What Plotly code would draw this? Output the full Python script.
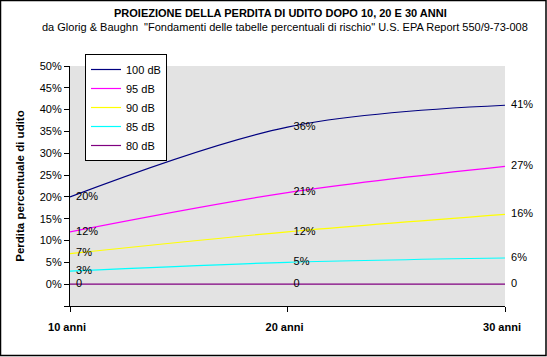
import plotly.graph_objects as go

years = [10, 20, 30]
x_labels = ["10 anni", "20 anni", "30 anni"]
series_names = ["100 dB", "95 dB", "90 dB", "85 dB", "80 dB"]
v100 = [0.20, 0.36, 0.41]
v95 = [0.12, 0.21, 0.27]
v90 = [0.07, 0.12, 0.16]
v85 = [0.03, 0.05, 0.06]
v80 = [0.0, 0.0, 0.0]
colors = ["#000080", "#FF00FF", "#FFFF00", "#00FFFF", "#800080"]
y_ticks = [-0.05, 0, 0.05, 0.10, 0.15, 0.20, 0.25, 0.30, 0.35, 0.40, 0.45, 0.50]
y_tick_labels = [""] + [f"{int(round(v*100))}%" for v in y_ticks[1:]]

W, H = 547, 357
ML, MR, MT, MB = 70, 42, 66, 51
PW, PH = W - ML - MR, H - MT - MB

font = "Liberation Sans, Arial, sans-serif"
pad = "\u00a0\u00a0"

fig = go.Figure()
for name, vals, col in zip(series_names, [v100, v95, v90, v85, v80], colors):
    if name == "80 dB":
        txt = [pad + "0" for v in vals]
    else:
        txt = [pad + f"{int(round(v*100))}%" for v in vals]
    fig.add_trace(go.Scatter(
        x=years, y=vals, name=name, mode="lines+text",
        line=dict(color=col, width=1.2, shape="spline", smoothing=1),
        text=txt, textposition="middle right",
        textfont=dict(family=font, size=11, color="black"),
        cliponaxis=False,
    ))

fig.update_layout(
    width=W, height=H,
    margin=dict(l=ML, r=MR, t=MT, b=MB, autoexpand=False),
    paper_bgcolor="white",
    plot_bgcolor="#E3E3E3",
    font=dict(family=font, size=11, color="black"),
    showlegend=True,
    legend=dict(
        x=(85 - ML) / PW, y=1 + (MT - 54) / PH, xanchor="left", yanchor="top",
        bgcolor="white", bordercolor="black", borderwidth=1,
        font=dict(family=font, size=11, color="black"),
        tracegroupgap=0, itemwidth=30,
    ),
    xaxis=dict(
        range=[10, 30], tickvals=years, ticktext=x_labels,
        showgrid=False, zeroline=False, automargin=False,
        showline=True, linecolor="black", linewidth=1.2,
        ticks="outside", ticklen=5, tickcolor="black", tickwidth=1.2,
        tickfont=dict(family=font, size=11, color="black", weight="bold"),
        ticklabelstandoff=6, ticklabelshift=-3,
    ),
    yaxis=dict(
        range=[-0.05, 0.5], tickvals=y_ticks, ticktext=y_tick_labels,
        showgrid=False, zeroline=False, automargin=False,
        showline=True, linecolor="black", linewidth=1.2,
        ticks="outside", ticklen=5, tickcolor="black", tickwidth=1.2,
        tickfont=dict(family=font, size=11, color="black"),
        title=dict(text="<b>Perdita percentuale di udito</b>",
                   font=dict(family=font, size=11.5, color="black"), standoff=12),
    ),
    annotations=[
        dict(text="<b>PROIEZIONE DELLA PERDITA DI UDITO DOPO 10, 20 E 30 ANNI</b>",
             xref="paper", yref="paper", x=(280 - ML) / PW, y=1 + (MT - 13) / PH,
             xanchor="center", yanchor="middle", showarrow=False,
             font=dict(family=font, size=11, color="black")),
        dict(text="da Glorig & Baughn  \"Fondamenti delle tabelle percentuali di rischio\" U.S. EPA Report 550/9-73-008",
             xref="paper", yref="paper", x=(284.5 - ML) / PW, y=1 + (MT - 27) / PH,
             xanchor="center", yanchor="middle", showarrow=False,
             font=dict(family=font, size=11, color="black")),
    ],
    shapes=[
        dict(type="rect", xref="paper", yref="paper",
             x0=(0.5 - ML) / PW, x1=(546 - ML) / PW,
             y0=(H - MB - 355.5) / PH, y1=(H - MB - 0.5) / PH,
             line=dict(color="black", width=1.5), fillcolor="rgba(0,0,0,0)", layer="above"),
    ],
)

fig.write_html("out.html", config={"displayModeBar": False},
               post_script="document.body.style.margin='0';document.body.style.overflow='hidden';")
